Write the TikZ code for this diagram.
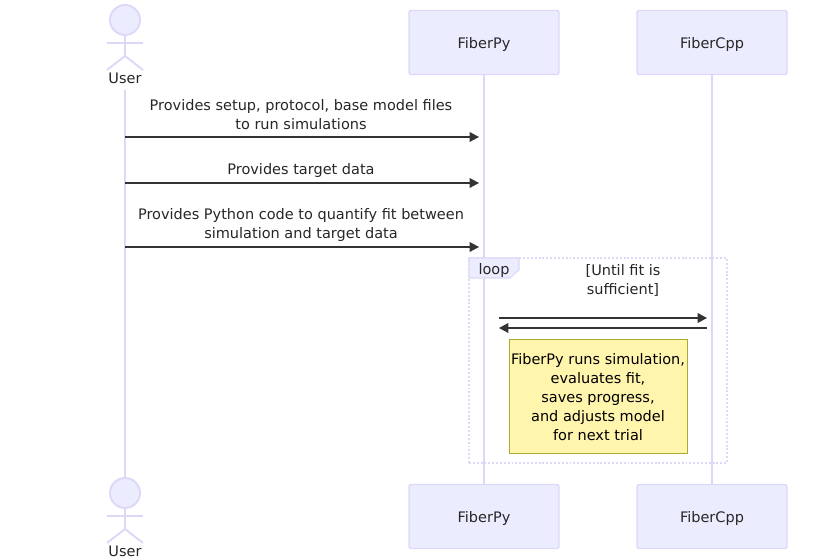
\documentclass[tikz,border=0pt]{standalone}
\usepackage{fontspec}
\setmainfont{DejaVu Sans}
\usetikzlibrary{arrows.meta}

\definecolor{actorfill}{HTML}{ECECFF}
\definecolor{actorline}{HTML}{DDD8F8}
\definecolor{notefill}{HTML}{FFF5AD}
\definecolor{noteline}{HTML}{AAAA33}
\definecolor{msgline}{HTML}{333333}

\tikzset{
    labeltext/.style={align=center, inner sep=0pt, text=black!85, font=\fontsize{8.25}{10.8}\selectfont},
    partbox/.style={draw=actorline, fill=actorfill, rounded corners=1.2pt, line width=0.8pt,
        minimum width=3cm, minimum height=1.28cm, inner sep=0pt, text=black!85, text depth=0pt,
        font=\fontsize{8.25}{10.8}\selectfont},
    lifeline/.style={draw=actorline, line width=1.1pt},
    msg/.style={draw=msgline, line width=0.72pt, -{Triangle[length=5.4pt,width=5.6pt]}},
    pics/stickman/.style={code={
        \draw[actorline, fill=actorfill, line width=1.1pt] (0,0) circle (0.3);
        \draw[actorline, line width=1.1pt] (0,-0.3) -- (0,-0.72);
        \draw[actorline, line width=1.1pt] (-0.36,-0.46) -- (0.36,-0.46);
        \draw[actorline, line width=1.1pt] (-0.36,-1) -- (0,-0.72) -- (0.36,-1);
    }}
}

\begin{document}
\begin{tikzpicture}
    \useasboundingbox (0,0) rectangle (16.74,11.2);

    % Participant boxes
    \node[partbox] (pyTop) at (9.68,10.35) {FiberPy};
    \node[partbox] (cppTop) at (14.24,10.35) {FiberCpp};
    \node[partbox] (pyBottom) at (9.68,0.87) {FiberPy};
    \node[partbox] (cppBottom) at (14.24,0.87) {FiberCpp};

    % User figures
    \node[labeltext] (userTop) at (2.5,9.64) {User};
    \node[labeltext] (userBottom) at (2.5,0.18) {User};
    \coordinate (lifeTop) at (2.5,9.4);
    \coordinate (lifeBottom) at (2.5,1.64);

    % Lifelines
    \draw[lifeline] (lifeTop) -- (lifeBottom);
    \draw[lifeline] (pyTop) -- (pyBottom);
    \draw[lifeline] (cppTop) -- (cppBottom);
    \pic at (2.5,10.8) {stickman};
    \pic at (2.5,1.34) {stickman};

    % Messages from the user
    \coordinate (userA) at (2.5,8.46);
    \coordinate (pyA) at (9.58,8.46);
    \coordinate (userB) at (2.5,7.54);
    \coordinate (pyB) at (9.58,7.54);
    \coordinate (userC) at (2.5,6.26);
    \coordinate (pyC) at (9.58,6.26);
    \draw[msg] (userA) -- (pyA);
    \draw[msg] (userB) -- (pyB);
    \draw[msg] (userC) -- (pyC);
    \node[labeltext] (msgA) at (6.02,8.9) {Provides setup, protocol, base model files\\to run simulations};
    \node[labeltext] (msgB) at (6.02,7.79) {Provides target data};
    \node[labeltext] (msgC) at (6.02,6.7) {Provides Python code to quantify fit between\\simulation and target data};

    % Loop frame
    \node[draw=actorline, dash pattern=on 1.1pt off 1.1pt, line width=1.1pt, minimum width=5.16cm,
        minimum height=4.1cm, inner sep=0pt] (loopFrame) at (11.96,3.99) {};
    \draw[draw=actorline, fill=actorfill, line width=0.6pt] (9.38,6.04) -- (10.38,6.04) -- (10.38,5.8)
        -- (10.2,5.64) -- (9.38,5.64) -- cycle;
    \node[labeltext] (loopTag) at (9.88,5.78) {loop};
    \node[labeltext] (loopCond) at (12.46,5.6) {[Until fit is\\sufficient]};

    % Loop messages
    \coordinate (pyD) at (9.98,4.84);
    \coordinate (cppD) at (14.14,4.84);
    \coordinate (pyE) at (9.98,4.64);
    \coordinate (cppE) at (14.14,4.64);
    \draw[msg] (pyD) -- (cppD);
    \draw[msg] (cppE) -- (pyE);

    % Note
    \node[draw=noteline, fill=notefill, line width=0.5pt, minimum width=3.56cm, minimum height=2.28cm,
        inner sep=0pt] (simNote) at (11.96,3.28) {};
    \node[labeltext, text=black] (simText) at (11.96,3.25)
        {FiberPy runs simulation,\\evaluates fit,\\saves progress,\\and adjusts model\\for next trial};
\end{tikzpicture}
\end{document}
